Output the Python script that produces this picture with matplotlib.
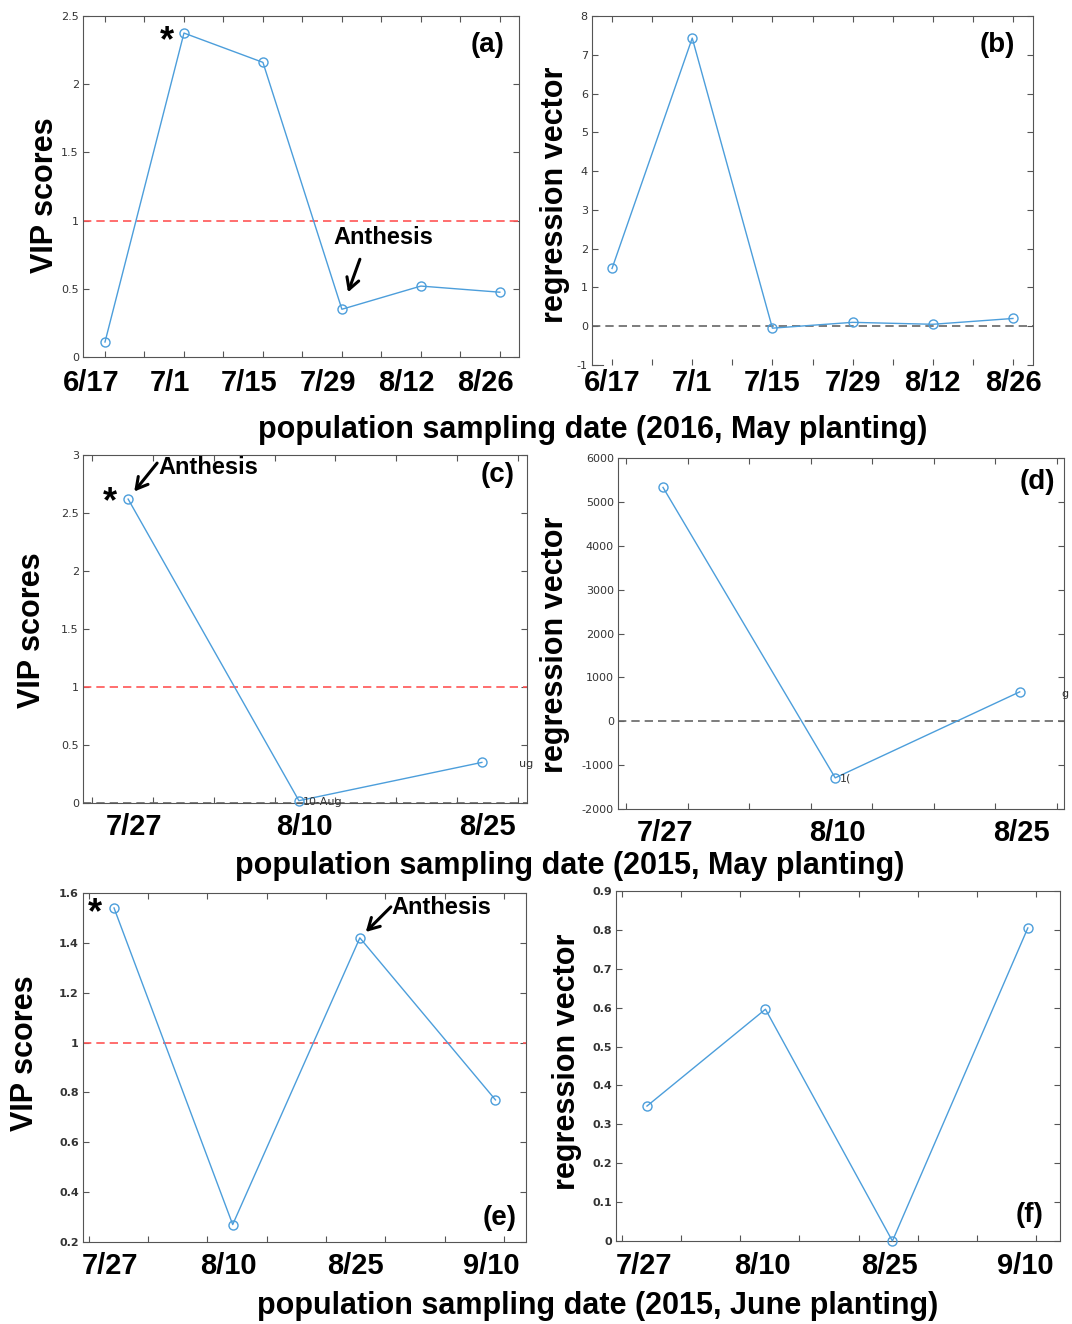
import numpy as np
import matplotlib.pyplot as plt
import matplotlib.transforms as mtransforms
from matplotlib.ticker import FuncFormatter

plt.rcParams['axes.unicode_minus'] = False

# ---- data (x = days after first sampling date) ----
days_2016 = [0, 14, 28, 42, 56, 70]
dates_2016 = ['6/17', '7/1', '7/15', '7/29', '8/12', '8/26']
vip_2016 = [0.11, 2.375, 2.16, 0.35, 0.52, 0.475]
reg_2016 = [1.49, 7.43, -0.05, 0.10, 0.05, 0.20]

days_2015_may = [0, 14, 29]
dates_2015_may = ['7/27', '8/10', '8/25']
vip_2015_may = [2.62, 0.02, 0.35]
reg_2015_may = [5330, -1290, 670]

days_2015_jun = [0, 14, 29, 45]
dates_2015_jun = ['7/27', '8/10', '8/25', '9/10']
vip_2015_jun = [1.54, 0.27, 1.42, 0.77]
reg_2015_jun = [0.347, 0.596, 0.0, 0.805]

W, H = 1072, 1324
LINE = '#4c9edb'
BOLD = 'Liberation Sans'

fig = plt.figure(figsize=(W / 100, H / 100), dpi=100)


def px(x, y):
    return x / W, 1 - y / H


def make_ax(l, t, r, b):
    ax = fig.add_axes([l / W, 1 - b / H, (r - l) / W, (b - t) / H])
    for s in ax.spines.values():
        s.set_color('#555555')
        s.set_linewidth(0.8)
    ax.tick_params(direction='in', top=True, right=True, length=4,
                   width=0.8, color='#555555', labelsize=8,
                   labelcolor='#333333', pad=3)
    ax.xaxis.set_ticklabels([])
    return ax


def plot_series(ax, x, y):
    ax.plot(x, y, '-o', color=LINE, lw=1.0, ms=6.5, mfc='none', mec=LINE, mew=1.0,
            clip_on=False, zorder=3)


def date_labels(ax, x, labels, ypix, dx=0):
    trans = mtransforms.blended_transform_factory(ax.transData, fig.transFigure)
    trans = trans + mtransforms.ScaledTranslation(dx / 100, 0, fig.dpi_scale_trans)
    for xi, lab in zip(x, labels):
        ax.text(xi, 1 - ypix / H, lab, transform=trans, ha='center', va='center',
                fontsize=21, fontweight='bold', family=BOLD)


def ylab(x, y, s):
    fig.text(*px(x, y), s, rotation=90, ha='center', va='center', fontsize=22,
             fontweight='bold', family=BOLD)


def ftext(x, y, s, size=20):
    fig.text(*px(x, y), s, ha='center', va='center', fontsize=size,
             fontweight='bold', family=BOLD)


def arrow(ax, x, y, tail_dx, tail_dy, shrink):
    ax.annotate('', xy=(x, y), xytext=(tail_dx, tail_dy), textcoords='offset pixels',
                arrowprops=dict(arrowstyle='->,head_length=0.8,head_width=0.45',
                                lw=2.2, color='black', shrinkA=0, shrinkB=shrink),
                annotation_clip=False)


gfmt = FuncFormatter(lambda v, p: f'{v:g}')

# ---- (a) ----
ax = make_ax(83, 16, 519, 357)
ax.axhline(1, color='#ff5555', ls='--', lw=1.2, dashes=(5, 3))
plot_series(ax, days_2016, vip_2016)
ax.set_xlim(-3.9, 73.4)
ax.set_ylim(0, 2.5)
ax.set_xticks(np.arange(0, 71, 7))
ax.set_yticks(np.arange(0, 2.51, 0.5))
ax.yaxis.set_major_formatter(gfmt)
date_labels(ax, days_2016, dates_2016, 383, dx=-14)
ftext(488, 45, '(a)')
ftext(167, 42, '*', 26)
ftext(383, 238, 'Anthesis', 17)
arrow(ax, days_2016[3], vip_2016[3], 18, 50, 13)
ylab(45, 195, 'VIP scores')

# ---- (b) ----
ax = make_ax(592, 16, 1033, 365)
ax.axhline(0, color='#666666', ls='--', lw=1.2, dashes=(5, 3))
plot_series(ax, days_2016, reg_2016)
ax.set_xlim(-3.5, 73.5)
ax.set_ylim(-1, 8)
ax.set_xticks(np.arange(0, 71, 7))
ax.set_yticks(np.arange(-1, 8.1, 1))
ax.spines['bottom'].set_bounds(-3.5, -1.5)
date_labels(ax, days_2016, dates_2016, 383, dx=0)
ftext(997, 45, '(b)')
ylab(555, 195, 'regression vector')

fig.text(*px(593, 430), 'population sampling date (2016, May planting)', ha='center',
         va='center', fontsize=22, fontweight='bold', family=BOLD)

# ---- (c) ----
ax = make_ax(83, 455, 527, 803)
ax.axhline(1, color='#ff5555', ls='--', lw=1.2, dashes=(5, 3))
ax.axhline(0, color='#666666', ls='--', lw=1.2, dashes=(5, 3))
plot_series(ax, days_2015_may, vip_2015_may)
ax.set_xlim(-3.7, 32.7)
ax.set_ylim(0, 3)
ax.set_xticks(np.arange(-3, 33, 5))
ax.set_yticks(np.arange(0, 3.01, 0.5))
ax.yaxis.set_major_formatter(gfmt)
ax.text(days_2015_may[1], vip_2015_may[1], '10-Aug', fontsize=8, color='#333333',
        ha='left', va='center', transform=ax.transData + mtransforms.ScaledTranslation(
            0.04, -0.01, fig.dpi_scale_trans))
ax.text(days_2015_may[2], vip_2015_may[2], 'ug', fontsize=8, color='#333333', ha='left',
        va='center', clip_on=False,
        transform=ax.transData + mtransforms.ScaledTranslation(0.37, -0.02, fig.dpi_scale_trans))
date_labels(ax, days_2015_may, dates_2015_may, 827, dx=6)
ftext(498, 475, '(c)')
ftext(110, 503, '*', 26)
fig.text(*px(158, 467), 'Anthesis', ha='left', va='center', fontsize=17,
         fontweight='bold', family=BOLD)
arrow(ax, days_2015_may[0], vip_2015_may[0], 29, 36, 7)
ylab(32, 630, 'VIP scores')

# ---- (d) ----
ax = make_ax(618, 458, 1064, 809)
ax.axhline(0, color='#666666', ls='--', lw=1.2, dashes=(5, 3))
plot_series(ax, days_2015_may, reg_2015_may)
ax.set_xlim(-3.66, 32.6)
ax.set_ylim(-2000, 6000)
ax.set_xticks(np.arange(-3, 33, 5))
ax.set_yticks(np.arange(-2000, 6001, 1000))
ax.text(days_2015_may[1], reg_2015_may[1], '1(', fontsize=8, color='#333333',
        ha='left', va='center', transform=ax.transData + mtransforms.ScaledTranslation(
            0.05, -0.01, fig.dpi_scale_trans))
ax.text(days_2015_may[2], reg_2015_may[2], 'g', fontsize=8, color='#333333', ha='left',
        va='center', clip_on=False,
        transform=ax.transData + mtransforms.ScaledTranslation(0.42, -0.02, fig.dpi_scale_trans))
date_labels(ax, days_2015_may, dates_2015_may, 833, dx=2)
ftext(1037, 482, '(d)')
ylab(555, 645, 'regression vector')

fig.text(*px(570, 866), 'population sampling date (2015, May planting)', ha='center',
         va='center', fontsize=22, fontweight='bold', family=BOLD)

# ---- (e) ----
ax = make_ax(83, 893, 526, 1242)
ax.axhline(1, color='#ff5555', ls='--', lw=1.2, dashes=(5, 3))
plot_series(ax, days_2015_jun, vip_2015_jun)
ax.set_xlim(-3.66, 48.6)
ax.set_ylim(0.2, 1.6)
ax.set_xticks(np.arange(-3, 47, 7))
ax.set_yticks(np.arange(0.2, 1.61, 0.2))
ax.yaxis.set_major_formatter(gfmt)
for t in ax.get_yticklabels():
    t.set_fontweight('bold')
date_labels(ax, days_2015_jun, dates_2015_jun, 1266, dx=-4)
ftext(500, 1218, '(e)')
ftext(95, 914, '*', 26)
fig.text(*px(391, 908), 'Anthesis', ha='left', va='center', fontsize=17,
         fontweight='bold', family=BOLD)
arrow(ax, days_2015_jun[2], vip_2015_jun[2], 31, 31, 6)
ylab(25, 1053, 'VIP scores')

# ---- (f) ----
ax = make_ax(616, 891, 1060, 1241)
plot_series(ax, days_2015_jun, reg_2015_jun)
ax.set_xlim(-3.66, 48.8)
ax.set_ylim(0, 0.9)
ax.set_xticks(np.arange(-3, 47, 7))
ax.set_yticks(np.arange(0, 0.91, 0.1))
ax.yaxis.set_major_formatter(gfmt)
for t in ax.get_yticklabels():
    t.set_fontweight('bold')
date_labels(ax, days_2015_jun, dates_2015_jun, 1266, dx=-3)
ftext(1030, 1215, '(f)')
ylab(567, 1062, 'regression vector')

fig.text(*px(598, 1306), 'population sampling date (2015, June planting)', ha='center',
         va='center', fontsize=22, fontweight='bold', family=BOLD)

fig.savefig('out.png', dpi=100)
